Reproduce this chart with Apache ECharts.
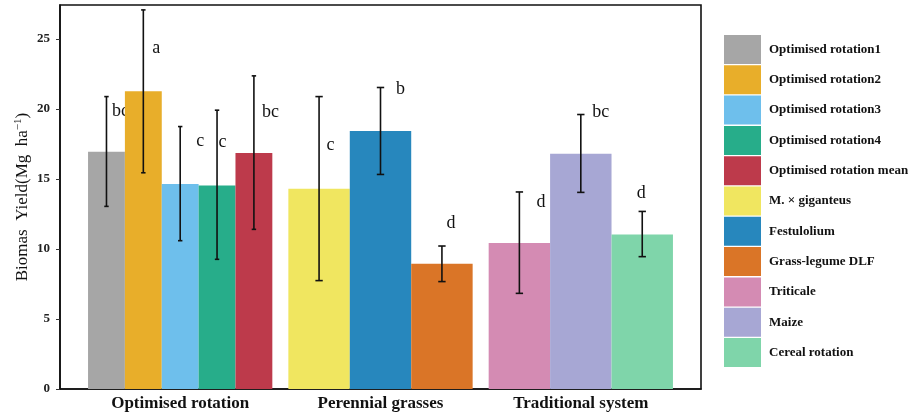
<!DOCTYPE html>
<html>
<head>
<meta charset="utf-8">
<script src="https://cdn.jsdelivr.net/npm/echarts@6/dist/echarts.min.js"></script>
<style>
html,body{margin:0;padding:0;background:#fff;}
#chart{width:912px;height:417px;}
</style>
</head>
<body>
<div id="chart"></div>
<script>
// ---- data ----
const categories = ['Optimised rotation', 'Perennial grasses', 'Traditional system'];
const seriesNames = ['Optimised rotation1', 'Optimised rotation2', 'Optimised rotation3', 'Optimised rotation4',
  'Optimised rotation mean', 'M. \u00d7 giganteus', 'Festulolium', 'Grass-legume DLF', 'Triticale', 'Maize', 'Cereal rotation'];
const groupIndex = [0, 0, 0, 0, 0, 1, 1, 1, 2, 2, 2];
const means = [16.94, 21.27, 14.64, 14.54, 16.85, 14.30, 18.42, 8.95, 10.43, 16.80, 11.04];
const lower = [13.04, 15.44, 10.59, 9.26, 11.40, 7.74, 15.32, 7.67, 6.83, 14.04, 9.45];
const upper = [20.88, 27.07, 18.74, 19.91, 22.36, 20.88, 21.53, 10.21, 14.07, 19.60, 12.68];
const letters = ['bc', 'a', 'c', 'c', 'bc', 'c', 'b', 'd', 'd', 'bc', 'd'];
const letterBaseline = [19.42, 23.91, 17.32, 17.20, 19.39, 17.03, 21.01, 11.45, 12.97, 19.34, 13.57];
const yTickValues = [0, 5, 10, 15, 20, 25];

// ---- styles ----
const colors = ['#a6a6a6', '#e8ae2a', '#6ebfec', '#27ad8a', '#bd3a4b', '#f0e660', '#2787bd', '#da7527', '#d48bb3', '#a7a7d4', '#7fd5aa'];
const letterOffsetPx = [14, 13, 20, 5.5, 16.5, 11.5, 20, 9, 21.5, 20, -1];
const SERIF = "'Liberation Serif','Times New Roman',serif";
const DODGE = 0.92;

// dodge positions per group
const groupSize = [0, 0, 0];
groupIndex.forEach(g => groupSize[g]++);
const seen = [0, 0, 0];
const series = seriesNames.map((name, i) => {
  const g = groupIndex[i];
  const n = groupSize[g];
  const k = seen[g]++;
  const w = DODGE / n;
  const xc = (g + 1) - DODGE / 2 + (k + 0.5) * w;
  return {
    type: 'custom',
    name: name,
    itemStyle: { color: colors[i] },
    encode: { x: 0, y: [1, 2, 3] },
    data: [[xc, means[i], lower[i], upper[i], w, letterBaseline[i]]],
    renderItem: function (params, api) {
      const x = api.value(0), m = api.value(1), lo = api.value(2), hi = api.value(3), bw = api.value(4), lb = api.value(5);
      const pxW = api.size([bw, 0])[0];
      const p0 = api.coord([x, 0]);
      const pm = api.coord([x, m]);
      const plo = api.coord([x, lo]);
      const phi = api.coord([x, hi]);
      const pl = api.coord([x, lb]);
      const cap = pxW * 0.06;
      const errStyle = { stroke: '#111', lineWidth: 1.6 };
      return {
        type: 'group',
        children: [
          { type: 'rect', shape: { x: p0[0] - pxW / 2, y: pm[1], width: pxW, height: p0[1] - pm[1] },
            style: { fill: colors[i] } },
          { type: 'line', shape: { x1: phi[0], y1: phi[1], x2: plo[0], y2: plo[1] }, style: errStyle },
          { type: 'line', shape: { x1: phi[0] - cap, y1: phi[1], x2: phi[0] + cap, y2: phi[1] }, style: errStyle },
          { type: 'line', shape: { x1: plo[0] - cap, y1: plo[1], x2: plo[0] + cap, y2: plo[1] }, style: errStyle },
          { type: 'text', x: pl[0] + letterOffsetPx[i], y: pl[1] - 5.5,
            style: { text: letters[i], fontFamily: SERIF, fontSize: 18, fill: '#111', align: 'center', verticalAlign: 'middle' } }
        ]
      };
    }
  };
});

const chart = echarts.init(document.getElementById('chart'), null, { renderer: 'canvas' });
chart.setOption({
  animation: false,
  backgroundColor: '#fff',
  grid: { left: 60, right: 211, top: 5, bottom: 28, show: true, borderColor: '#111', borderWidth: 1.6, backgroundColor: 'transparent' },
  legend: {
    orient: 'vertical', left: 719, top: 30,
    itemWidth: 37, itemHeight: 29, itemGap: 1.3, icon: 'rect',
    data: seriesNames,
    textStyle: { fontFamily: SERIF, fontWeight: 'bold', fontSize: 13, color: '#111', padding: [0, 0, 0, 3] },
    selectedMode: false
  },
  xAxis: {
    type: 'value', min: 0.4, max: 3.6,
    splitLine: { show: false },
    axisTick: { show: false },
    axisLine: { show: true, lineStyle: { color: '#111', width: 1.6 } },
    axisLabel: {
      customValues: [1, 2, 3],
      formatter: v => categories[Math.round(v) - 1] || '',
      fontFamily: SERIF, fontWeight: 'bold', fontSize: 17, color: '#111', margin: 6
    }
  },
  yAxis: {
    type: 'value', min: 0, max: 27.42,
    splitLine: { show: false },
    axisLine: { show: true, lineStyle: { color: '#111', width: 1.6 } },
    axisTick: { show: true, length: 4, lineStyle: { color: '#333' }, customValues: yTickValues },
    axisLabel: { customValues: yTickValues, fontFamily: SERIF, fontWeight: 'bold', fontSize: 13, color: '#222', margin: 10 },
    name: 'Biomas  Yield(Mg  ha{sup|\u22121})',
    nameLocation: 'middle', nameGap: 28, nameMoveOverlap: false,
    nameTextStyle: {
      fontFamily: SERIF, fontSize: 17, color: '#111',
      rich: { sup: { fontFamily: SERIF, fontSize: 11, verticalAlign: 'top', padding: [0, 0, 8, 0], color: '#111' } }
    }
  },
  series: series
});
</script>
</body>
</html>
